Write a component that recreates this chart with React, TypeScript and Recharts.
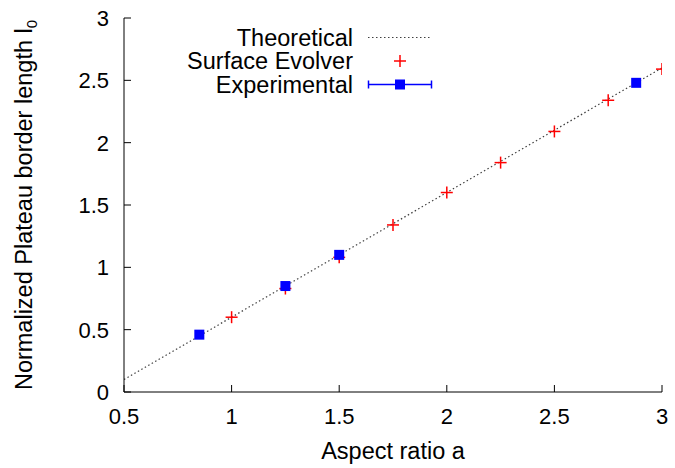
import React from "react";
import {
  ComposedChart,
  Line,
  Scatter,
  XAxis,
  YAxis,
  Legend,
} from "recharts";

const theoryA = [0.5, 3];
const theoryL = [0.1, 2.6];

const evolverA = [1, 1.25, 1.5, 1.75, 2, 2.25, 2.5, 2.75, 3];
const evolverL = [0.6, 0.83, 1.08, 1.34, 1.6, 1.84, 2.09, 2.34, 2.59];

const expA = [0.85, 1.25, 1.5, 2.88];
const expL = [0.46, 0.85, 1.1, 2.48];

const xTicks = [0.5, 1, 1.5, 2, 2.5, 3];
const yTicks = [0, 0.5, 1, 1.5, 2, 2.5, 3];

const theoryData = theoryA.map((a, i) => ({ a, l: theoryL[i] }));
const evolverData = evolverA.map((a, i) => ({ a, l: evolverL[i] }));
const expData = expA.map((a, i) => ({ a, l: expL[i] }));

const FONT = "'Liberation Sans', Arial, Helvetica, sans-serif";
const TICK_LEN = 7;
const TICK_FONT = 22;
const TEXT_FONT = 23.5;

const BottomTick = (props: any) => {
  const { x, y, payload } = props;
  return (
    <g>
      <line x1={x} x2={x} y1={y} y2={y - TICK_LEN} stroke="#000" />
      <text x={x} y={y + 32} textAnchor="middle" fontSize={TICK_FONT} fontFamily={FONT} fill="#000">
        {payload.value}
      </text>
    </g>
  );
};

const LeftTick = (props: any) => {
  const { x, y, payload } = props;
  return (
    <g>
      <line x1={x} x2={x + TICK_LEN} y1={y} y2={y} stroke="#000" />
      <text x={x - 15} y={y + 8} textAnchor="end" fontSize={TICK_FONT} fontFamily={FONT} fill="#000">
        {payload.value}
      </text>
    </g>
  );
};

const TopTick = (props: any) => {
  const { x, y } = props;
  return <line x1={x} x2={x} y1={y} y2={y + TICK_LEN} stroke="#000" />;
};

const RightTick = (props: any) => {
  const { x, y } = props;
  return <line x1={x} x2={x - TICK_LEN} y1={y} y2={y} stroke="#000" />;
};

const PlusShape = (props: any) => {
  const { cx, cy } = props;
  return (
    <g stroke="#ff0000" strokeWidth={1.5}>
      <line x1={cx - 6} x2={cx + 6} y1={cy} y2={cy} />
      <line x1={cx} x2={cx} y1={cy - 6} y2={cy + 6} />
    </g>
  );
};

const SquareShape = (props: any) => {
  const { cx, cy } = props;
  return <rect x={cx - 5} y={cy - 5} width={10} height={10} fill="#0000ff" />;
};

const XLabel = (props: any) => {
  const vb = props.viewBox;
  return (
    <text
      x={vb.x + vb.width / 2}
      y={vb.y + 67}
      textAnchor="middle"
      fontSize={TEXT_FONT}
      fontFamily={FONT}
      fill="#000"
    >
      Aspect ratio a
    </text>
  );
};

const YLabel = (props: any) => {
  const vb = props.viewBox;
  const cx = 32;
  const cy = vb.y + vb.height / 2;
  return (
    <text
      x={cx}
      y={cy}
      transform={`rotate(-90, ${cx}, ${cy})`}
      textAnchor="middle"
      fontSize={TEXT_FONT}
      fontFamily={FONT}
      fill="#000"
    >
      Normalized Plateau border length l
      <tspan fontSize={15} dy={5}>0</tspan>
    </text>
  );
};

const legendRows = [
  { name: "Theoretical", kind: "line" },
  { name: "Surface Evolver", kind: "plus" },
  { name: "Experimental", kind: "square" },
];

// legend drawn in its own svg; rows centred at y 37.5, 61, 84.5
const LegendBox = () => (
  <svg width={460} height={100} style={{ display: "block" }}>
    {legendRows.map((r, i) => {
      const cy = 37.5 + i * 23.5;
      return (
        <g key={r.name}>
          <text
            x={353}
            y={cy + 8}
            textAnchor="end"
            fontSize={TEXT_FONT}
            fontFamily={FONT}
            fill="#000"
          >
            {r.name}
          </text>
          {r.kind === "line" && (
            <line x1={368} x2={430} y1={cy} y2={cy} stroke="#404040" strokeWidth={1.2} strokeDasharray="1.5 2.5" />
          )}
          {r.kind === "plus" && (
            <g stroke="#ff0000" strokeWidth={1.5}>
              <line x1={394} x2={406} y1={cy} y2={cy} />
              <line x1={400} x2={400} y1={cy - 6} y2={cy + 6} />
            </g>
          )}
          {r.kind === "square" && (
            <g stroke="#0000ff" strokeWidth={1.5}>
              <line x1={368} x2={432} y1={cy} y2={cy} />
              <line x1={368.5} x2={368.5} y1={cy - 4} y2={cy + 4} />
              <line x1={431.5} x2={431.5} y1={cy - 4} y2={cy + 4} />
              <rect x={395} y={cy - 5} width={10} height={10} fill="#0000ff" stroke="none" />
            </g>
          )}
        </g>
      );
    })}
  </svg>
);

export default function App() {
  return (
    <div style={{ position: "absolute", left: 0, top: 0, background: "#fff" }}>
      <ComposedChart
        width={675}
        height={468}
        margin={{ top: 18, right: 13, bottom: 36, left: 64 }}
      >
        <XAxis
          dataKey="a"
          type="number"
          domain={[0.5, 3]}
          ticks={xTicks}
          allowDataOverflow
          height={40}
          tickSize={0}
          tickMargin={0}
          tickLine={false}
          axisLine={{ stroke: "#000" }}
          tick={BottomTick}
          label={XLabel}
        />
        <XAxis
          xAxisId="top"
          orientation="top"
          type="number"
          domain={[0.5, 3]}
          ticks={xTicks}
          allowDataOverflow
          height={0}
          tickSize={0}
          tickMargin={0}
          tickLine={false}
          axisLine={{ stroke: "#000" }}
          tick={TopTick}
        />
        <YAxis
          dataKey="l"
          type="number"
          domain={[0, 3]}
          ticks={yTicks}
          allowDataOverflow
          width={60}
          tickSize={0}
          tickMargin={0}
          tickLine={false}
          axisLine={{ stroke: "#000" }}
          tick={LeftTick}
          label={YLabel}
        />
        <YAxis
          yAxisId="right"
          orientation="right"
          type="number"
          domain={[0, 3]}
          ticks={yTicks}
          allowDataOverflow
          width={0}
          tickSize={0}
          tickMargin={0}
          tickLine={false}
          axisLine={{ stroke: "#000" }}
          tick={RightTick}
        />
        <Legend
          layout="vertical"
          align="center"
          verticalAlign="middle"
          content={LegendBox}
          wrapperStyle={{ top: 0, left: 0, width: 460, height: 100 }}
        />
        <Line
          data={theoryData}
          dataKey="l"
          name="Theoretical"
          stroke="#404040"
          strokeWidth={1.2}
          strokeDasharray="1.5 2.5"
          dot={false}
          activeDot={false}
          isAnimationActive={false}
        />
        <Scatter
          data={evolverData}
          dataKey="l"
          name="Surface Evolver"
          shape={PlusShape}
          isAnimationActive={false}
        />
        <Scatter
          data={expData}
          dataKey="l"
          name="Experimental"
          shape={SquareShape}
          isAnimationActive={false}
        />
      </ComposedChart>
    </div>
  );
}
